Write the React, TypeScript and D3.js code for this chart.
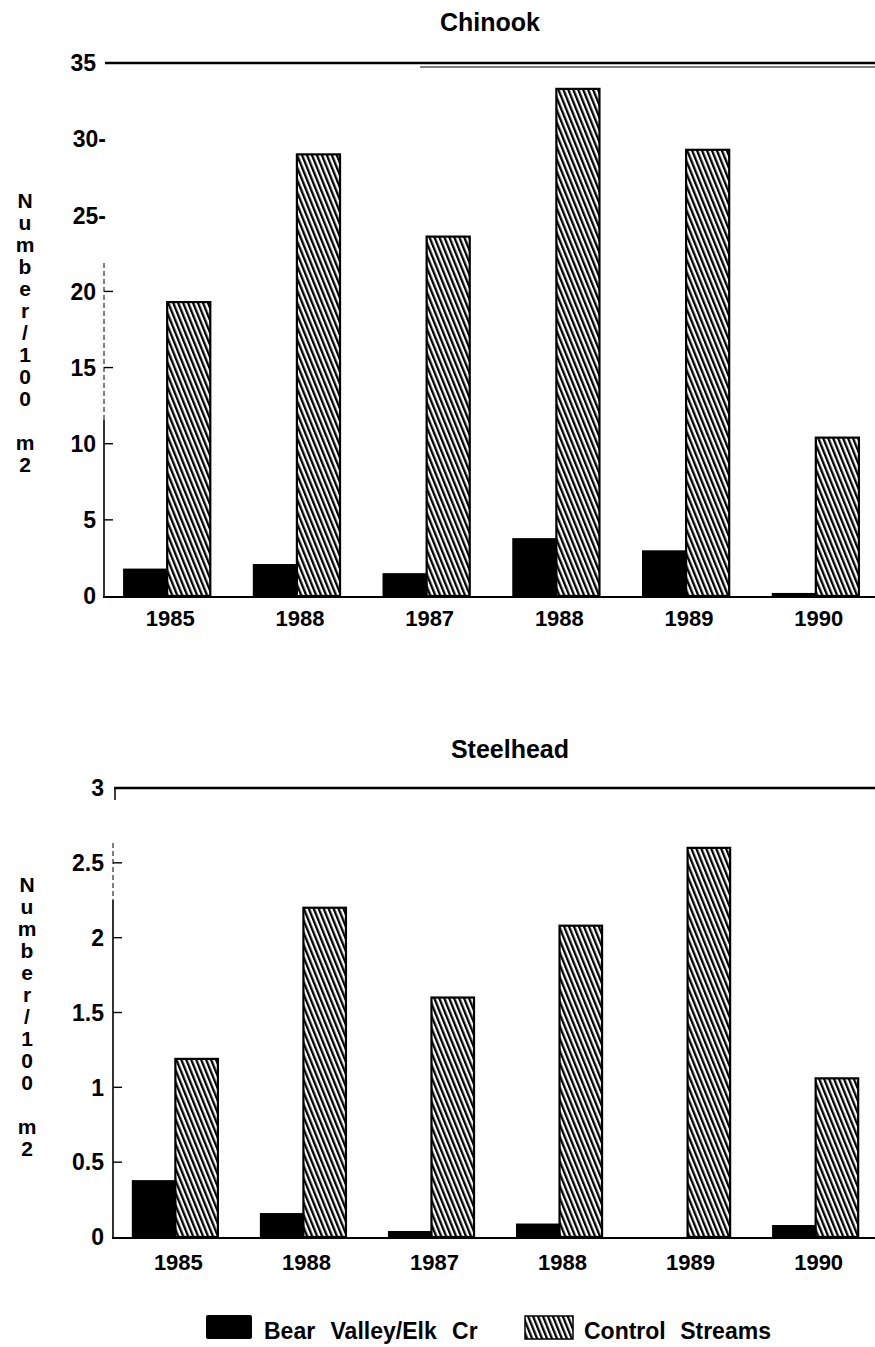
import React from "react";
import * as d3 from "d3";

const years = ["1985", "1988", "1987", "1988 ", "1989", "1990"];
const seriesNames = ["Bear Valley/Elk Cr", "Control Streams"];

const chinookBear = [1.8, 2.1, 1.5, 3.8, 3.0, 0.2];
const chinookControl = [19.3, 29.0, 23.6, 33.3, 29.3, 10.4];
const chinookTicks = [0, 5, 10, 15, 20, 25, 30, 35];
const chinookTickLabels = ["0", "5", "10", "15", "20", "25-", "30-", "35"];

const steelBear = [0.38, 0.16, 0.04, 0.09, 0, 0.08];
const steelControl = [1.19, 2.2, 1.6, 2.08, 2.6, 1.06];
const steelTicks = [0, 0.5, 1, 1.5, 2, 2.5, 3];
const steelTickLabels = ["0", "0.5", "1", "1.5", "2", "2.5", "3"];

const yLabel = "Number/100 m2";
const FONT = "'Liberation Sans', Arial, Helvetica, sans-serif";

type PanelProps = {
  title: string;
  titleX: number;
  titleY: number;
  bear: number[];
  control: number[];
  ticks: number[];
  tickLabels: string[];
  yMax: number;
  x0: number;
  x1: number;
  yBottom: number;
  yTop: number;
  axisTopY: number;
  labelRight: number;
  yLabelX: number;
  yLabelY0: number;
  xLabelY: number;
  maxAxisTick: number;
  dashTo: number;
};

function Panel(p: PanelProps) {
  const x = d3
    .scaleBand<string>()
    .domain(years)
    .range([p.x0, p.x1])
    .paddingInner(0.32)
    .paddingOuter(0.147);
  const sub = d3
    .scaleBand<string>()
    .domain(seriesNames)
    .range([0, x.bandwidth()]);
  const y = d3.scaleLinear().domain([0, p.yMax]).range([p.yBottom, p.yTop]);
  const letters = yLabel.split("");
  return (
    <g>
      <text
        x={p.titleX}
        y={p.titleY}
        textAnchor="middle"
        fontFamily={FONT}
        fontWeight="bold"
        fontSize={25}
      >
        {p.title}
      </text>
      {/* top frame line */}
      <line x1={p.x0 + 1} x2={875} y1={y(p.yMax)} y2={y(p.yMax)} stroke="#000" strokeWidth={2.6} />
      {/* y axis */}
      <line
        x1={p.x0}
        x2={p.x0}
        y1={p.axisTopY}
        y2={p.dashTo}
        stroke="#000"
        strokeWidth={1}
        strokeDasharray="5 3"
      />
      <line x1={p.x0} x2={p.x0} y1={p.dashTo} y2={y(0)} stroke="#000" strokeWidth={1.6} />
      {/* x axis */}
      <line x1={p.x0 - 1} x2={875} y1={y(0) + 1} y2={y(0) + 1} stroke="#000" strokeWidth={2} />
      {/* ticks */}
      {p.ticks.map((t, i) => {
        const lab = p.tickLabels[i];
        const dash = lab.endsWith("-");
        return (
          <g key={"t" + i}>
            {t > 0 && t <= p.maxAxisTick ? (
              <line x1={p.x0} x2={p.x0 + 9} y1={y(t)} y2={y(t)} stroke="#000" strokeWidth={1.4} />
            ) : null}
            <text
              x={p.labelRight + (dash ? 10 : 0)}
              y={y(t)}
              dy="0.36em"
              textAnchor="end"
              fontFamily={FONT}
              fontWeight="bold"
              fontSize={23}
            >
              {lab}
            </text>
          </g>
        );
      })}
      {/* y label stacked */}
      {letters.map((c, i) =>
        c === " " ? null : (
          <text
            key={"l" + i}
            x={p.yLabelX}
            y={p.yLabelY0 + i * 22}
            dy="0.36em"
            textAnchor="middle"
            fontFamily={FONT}
            fontWeight="bold"
            fontSize={21}
          >
            {c}
          </text>
        )
      )}
      {/* bars */}
      {years.map((yr, i) => {
        const gx = x(yr) as number;
        const bx = gx + (sub(seriesNames[0]) as number);
        const cx = gx + (sub(seriesNames[1]) as number);
        const bw = sub.bandwidth();
        return (
          <g key={"b" + i}>
            <rect
              x={bx}
              y={y(p.bear[i])}
              width={bw}
              height={Math.max(0, y(0) - y(p.bear[i]))}
              fill="#000"
            />
            <rect
              x={cx}
              y={y(p.control[i])}
              width={bw - 1}
              height={y(0) - y(p.control[i])}
              fill="url(#hatch)"
              stroke="#000"
              strokeWidth={2.2}
            />
            <text
              x={gx + x.bandwidth() / 2 + 3}
              y={p.xLabelY}
              textAnchor="middle"
              fontFamily={FONT}
              fontWeight="bold"
              fontSize={22}
            >
              {yr.trim()}
            </text>
          </g>
        );
      })}
    </g>
  );
}

export default function App() {
  return (
    <svg
      width={875}
      height={1347}
      style={{ position: "absolute", left: 0, top: 0, background: "#fff" }}
    >
      <defs>
        <pattern
          id="hatch"
          patternUnits="userSpaceOnUse"
          width={4.6}
          height={20}
          patternTransform="rotate(-22)"
        >
          <rect width={4.6} height={20} fill="#fff" />
          <rect x={0} width={2.3} height={20} fill="#000" />
        </pattern>
      </defs>
      <rect width={875} height={1347} fill="#fff" />
      <Panel
        title="Chinook"
        titleX={490}
        titleY={31}
        bear={chinookBear}
        control={chinookControl}
        ticks={chinookTicks}
        tickLabels={chinookTickLabels}
        yMax={35}
        x0={104}
        x1={879}
        yBottom={596}
        yTop={63}
        axisTopY={263}
        dashTo={420}
        labelRight={96}
        yLabelX={25}
        yLabelY0={200}
        xLabelY={626}
        maxAxisTick={20}
      />
      <line x1={420} x2={875} y1={67} y2={67} stroke="#000" strokeWidth={1} />
      <Panel
        title="Steelhead"
        titleX={510}
        titleY={758}
        bear={steelBear}
        control={steelControl}
        ticks={steelTicks}
        tickLabels={steelTickLabels}
        yMax={3}
        x0={113}
        x1={878}
        yBottom={1237}
        yTop={788}
        axisTopY={843}
        dashTo={900}
        labelRight={104}
        yLabelX={27}
        yLabelY0={884}
        xLabelY={1270}
        maxAxisTick={2.5}
      />
      <line x1={115} x2={115} y1={788} y2={800} stroke="#000" strokeWidth={1.5} />
      {/* legend */}
      <g fontFamily={FONT} fontWeight="bold" fontSize={23}>
        <rect x={206} y={1315} width={46} height={24} rx={2} fill="#000" />
        <text x={264} y={1339} wordSpacing={9}>
          {seriesNames[0]}
        </text>
        <rect x={525} y={1316} width={48} height={23} fill="url(#hatch)" stroke="#000" strokeWidth={1.5} />
        <text x={584} y={1339} wordSpacing={8}>
          {seriesNames[1]}
        </text>
      </g>
    </svg>
  );
}
